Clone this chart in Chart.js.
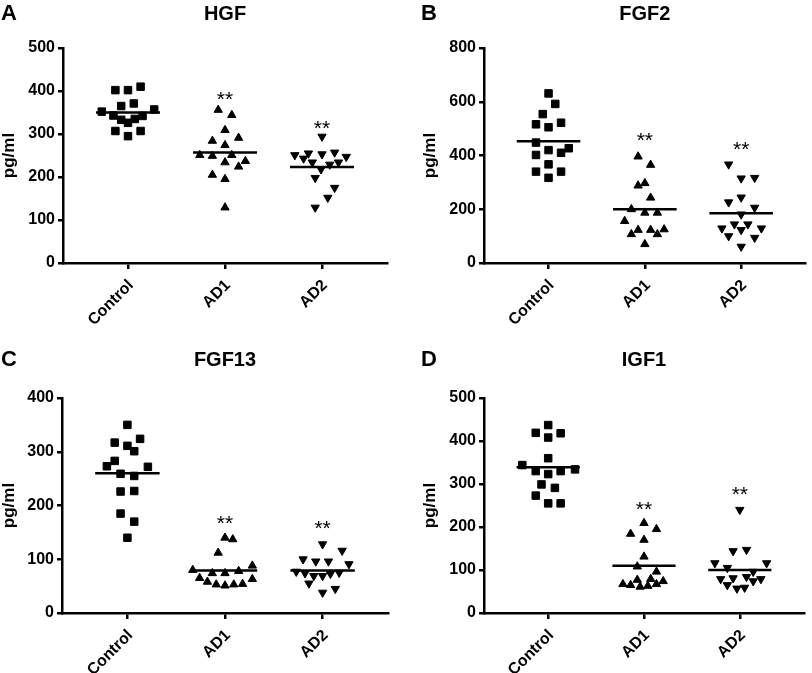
<!DOCTYPE html>
<html>
<head>
<meta charset="utf-8">
<script src="https://cdn.jsdelivr.net/npm/chart.js@4.4.0/dist/chart.umd.min.js"></script>
<style>
  html, body { margin: 0; padding: 0; background: #fff; overflow: hidden; }
  canvas { position: absolute; }
  .letter { position: absolute; font: bold 22px "Liberation Sans", Arial, sans-serif; line-height: 22px; color: #000; }
</style>
</head>
<body>
<canvas id="chartA" width="406" height="336" style="left:0;top:0"></canvas>
<canvas id="chartB" width="406" height="336" style="left:406px;top:0"></canvas>
<canvas id="chartC" width="406" height="337" style="left:0;top:336px"></canvas>
<canvas id="chartD" width="406" height="337" style="left:406px;top:336px"></canvas>
<div class="letter" style="left:1px;top:2px">A</div>
<div class="letter" style="left:421px;top:2px">B</div>
<div class="letter" style="left:1px;top:348px">C</div>
<div class="letter" style="left:421px;top:348px">D</div>
<script>
const groups = ['Control', 'AD1', 'AD2'];

// HGF (pg/ml), x = small offset from the group column
const hgfControl = [410, 402, 402, 371, 365, 357, 352, 343, 342, 335, 333, 326, 307, 307, 295];
const hgfControlX = [0.13, -0.13, 0, 0.06, -0.07, 0.27, -0.27, -0.15, 0.15, 0.07, -0.07, 0, -0.13, 0.13, 0];
const hgfAD1 = [356, 344, 309, 291, 284, 274, 251, 251, 249, 237, 234, 224, 205, 195, 129];
const hgfAD1X = [-0.07, 0.07, 0, 0.14, -0.13, 0, -0.26, 0.07, -0.13, 0.21, 0, 0.14, -0.13, 0, 0];
const hgfAD2 = [294, 257, 255, 253, 251, 247, 243, 234, 234, 229, 218, 198, 175, 152, 129];
const hgfAD2X = [0, 0.13, -0.14, 0, -0.28, 0.25, -0.19, -0.1, 0.17, 0.08, -0.01, -0.07, 0.13, 0.06, -0.07];
const hgfMeans = [350, 257, 223];
const hgfStars = [null, 391, 323];
const hgfTicks = [0, 100, 200, 300, 400, 500];

// FGF2
const fgf2Control = [631, 592, 554, 522, 516, 505, 448, 427, 420, 410, 402, 367, 340, 340, 317];
const fgf2ControlX = [0, 0.07, -0.06, 0.13, -0.13, 0, -0.13, 0.21, 0, 0.13, -0.13, 0, -0.13, 0.13, 0];
const fgf2AD1 = [396, 365, 297, 288, 243, 200, 187, 187, 156, 125, 123, 123, 107, 107, 70];
const fgf2AD1X = [-0.07, 0.06, 0, -0.07, 0.06, -0.14, 0, 0.13, -0.21, 0.2, -0.07, 0.06, -0.14, 0.13, 0];
const fgf2AD2 = [367, 317, 315, 244, 226, 206, 181, 144, 144, 129, 129, 123, 100, 94, 61];
const fgf2AD2X = [-0.13, 0.14, 0, 0, -0.13, 0.14, 0, -0.07, 0.07, -0.2, 0.21, 0, -0.13, 0.14, 0];
const fgf2Means = [453, 200, 185];
const fgf2Stars = [null, 472, 439];
const fgf2Ticks = [0, 200, 400, 600, 800];

// FGF13
const fgf13Control = [350, 324, 317, 311, 301, 283, 273, 272, 259, 255, 227, 226, 185, 170, 140];
const fgf13ControlX = [0, 0.13, -0.13, 0, 0.07, -0.13, -0.21, 0.21, -0.07, 0.07, 0.07, -0.07, -0.07, 0.07, 0];
const fgf13AD1 = [140, 137, 112, 88, 80, 78, 74, 74, 65, 63, 58, 54, 53, 53, 51];
const fgf13AD1X = [0, 0.08, -0.07, 0.28, -0.33, 0.14, -0.13, 0, -0.26, 0.28, -0.18, 0.18, -0.09, 0.09, 0];
const fgf13AD2 = [128, 116, 100, 96, 96, 91, 77, 75, 74, 73, 69, 69, 55, 45, 38];
const fgf13AD2X = [0, 0.2, -0.2, -0.07, 0.06, 0.27, -0.27, 0.17, -0.18, 0.08, -0.09, 0, -0.14, 0.13, 0];
const fgf13Means = [260, 79, 79];
const fgf13Stars = [null, 175, 166];
const fgf13Ticks = [0, 100, 200, 300, 400];

// IGF1
const igf1Control = [437, 419, 418, 408, 360, 344, 334, 330, 330, 323, 299, 291, 273, 255, 255];
const igf1ControlX = [0, -0.13, 0.13, 0, 0, -0.27, 0.28, -0.13, 0.13, 0, -0.07, 0.07, -0.13, 0, 0.13];
const igf1AD1 = [209, 195, 184, 170, 131, 108, 96, 79, 77, 74, 67, 67, 65, 63, 61];
const igf1AD1X = [0, 0.13, -0.14, 0, 0, -0.07, 0.13, 0.07, -0.07, 0.2, -0.22, 0.13, -0.14, 0.04, -0.04];
const igf1AD2 = [240, 147, 144, 116, 116, 105, 96, 84, 81, 79, 79, 74, 65, 59, 57];
const igf1AD2X = [0, 0.07, -0.07, -0.26, 0.28, -0.13, 0.14, 0.07, -0.07, -0.2, 0.22, 0.14, -0.13, 0.05, -0.03];
const igf1Means = [339, 110, 100];
const igf1Stars = [null, 251, 286];
const igf1Ticks = [0, 100, 200, 300, 400, 500];

const FONT = '"Liberation Sans", Arial, sans-serif';
const BLACK = '#000';

// draws the ** marks above the AD groups
const starPlugin = {
    id: 'stars',
    afterDatasetsDraw(chart, args, opts) {
        const { ctx, scales: { x, y } } = chart;
        ctx.save();
        ctx.font = '21px ' + FONT;
        ctx.fillStyle = BLACK;
        ctx.textAlign = 'center';
        ctx.textBaseline = 'middle';
        opts.values.forEach((v, i) => {
            if (v == null) return;
            ctx.fillText('**', x.getPixelForValue(i), y.getPixelForValue(v) + 5);
        });
        ctx.restore();
    }
};

const markerStyles = [
    { pointStyle: 'rect', pointRadius: 5.3, rotation: 0 },
    { pointStyle: 'triangle', pointRadius: 4.8, rotation: 0 },
    { pointStyle: 'triangle', pointRadius: 4.8, rotation: 180 }
];

function makeChart(id, p) {
    const datasets = [];
    p.series.forEach(([vals, offs], g) => {
        datasets.push({
            data: [{ x: g - 0.33, y: p.means[g] }, { x: g + 0.33, y: p.means[g] }],
            showLine: true,
            borderColor: BLACK,
            borderWidth: 2.5,
            pointRadius: 0
        });
        datasets.push(Object.assign({
            data: vals.map((v, i) => ({ x: g + offs[i], y: v })),
            backgroundColor: BLACK,
            borderColor: BLACK,
            borderWidth: 1
        }, markerStyles[g]));
    });

    new Chart(document.getElementById(id), {
        type: 'scatter',
        data: { datasets: datasets },
        options: {
            responsive: false,
            animation: false,
            events: [],
            devicePixelRatio: 1,
            layout: { padding: { left: p.padLeft, right: p.padRight, top: 0, bottom: 0 } },
            plugins: {
                legend: { display: false },
                tooltip: { enabled: false },
                title: {
                    display: true,
                    text: p.title,
                    fullSize: false,
                    color: BLACK,
                    font: { family: FONT, size: 20, weight: 'bold', lineHeight: 1.2 },
                    padding: { top: p.titleTop, bottom: p.titleBottom }
                },
                stars: { values: p.stars }
            },
            scales: {
                x: {
                    type: 'linear',
                    bounds: 'data',
                    min: -0.67,
                    max: 2.67,
                    afterBuildTicks: s => { s.ticks = groups.map((g, i) => ({ value: i })); },
                    afterFit: s => { s.height = p.xAxisHeight; },
                    ticks: {
                        callback: v => groups[v],
                        minRotation: 45,
                        maxRotation: 45,
                        autoSkip: false,
                        padding: 7,
                        labelOffset: 3,
                        color: BLACK,
                        font: { family: FONT, size: 16, weight: 'bold' }
                    },
                    grid: { drawOnChartArea: false, drawTicks: true, tickLength: 6, color: BLACK, lineWidth: 2.5 },
                    border: { display: true, color: BLACK, width: 2.5 }
                },
                y: {
                    min: p.ticks[0],
                    max: p.ticks[p.ticks.length - 1],
                    afterBuildTicks: s => { s.ticks = p.ticks.map(v => ({ value: v })); },
                    afterFit: s => { s.width = p.axisWidth; },
                    ticks: {
                        padding: 3,
                        color: BLACK,
                        font: { family: FONT, size: 16, weight: 'bold' }
                    },
                    grid: { drawOnChartArea: false, drawTicks: true, tickLength: 5, color: BLACK, lineWidth: 2.5 },
                    border: { display: true, color: BLACK, width: 2.5 },
                    title: {
                        display: true,
                        text: 'pg/ml',
                        color: BLACK,
                        font: { family: FONT, size: 17, weight: 'bold', lineHeight: 1.1 },
                        padding: { top: 0, bottom: 0 }
                    }
                }
            }
        },
        plugins: [starPlugin]
    });
}

makeChart('chartA', {
    title: 'HGF',
    series: [[hgfControl, hgfControlX], [hgfAD1, hgfAD1X], [hgfAD2, hgfAD2X]],
    means: hgfMeans, stars: hgfStars, ticks: hgfTicks,
    padLeft: 0, axisWidth: 63, padRight: 19, xAxisHeight: 73, titleTop: 2.5, titleBottom: 21.5
});
makeChart('chartB', {
    title: 'FGF2',
    series: [[fgf2Control, fgf2ControlX], [fgf2AD1, fgf2AD1X], [fgf2AD2, fgf2AD2X]],
    means: fgf2Means, stars: fgf2Stars, ticks: fgf2Ticks,
    padLeft: 15, axisWidth: 63, padRight: 6, xAxisHeight: 73, titleTop: 2.5, titleBottom: 21.5
});
makeChart('chartC', {
    title: 'FGF13',
    series: [[fgf13Control, fgf13ControlX], [fgf13AD1, fgf13AD1X], [fgf13AD2, fgf13AD2X]],
    means: fgf13Means, stars: fgf13Stars, ticks: fgf13Ticks,
    padLeft: 0, axisWidth: 62, padRight: 18, xAxisHeight: 60, titleTop: 12, titleBottom: 26
});
makeChart('chartD', {
    title: 'IGF1',
    series: [[igf1Control, igf1ControlX], [igf1AD1, igf1AD1X], [igf1AD2, igf1AD2X]],
    means: igf1Means, stars: igf1Stars, ticks: igf1Ticks,
    padLeft: 15, axisWidth: 63, padRight: 8, xAxisHeight: 60, titleTop: 12, titleBottom: 26
});
</script>
</body>
</html>
